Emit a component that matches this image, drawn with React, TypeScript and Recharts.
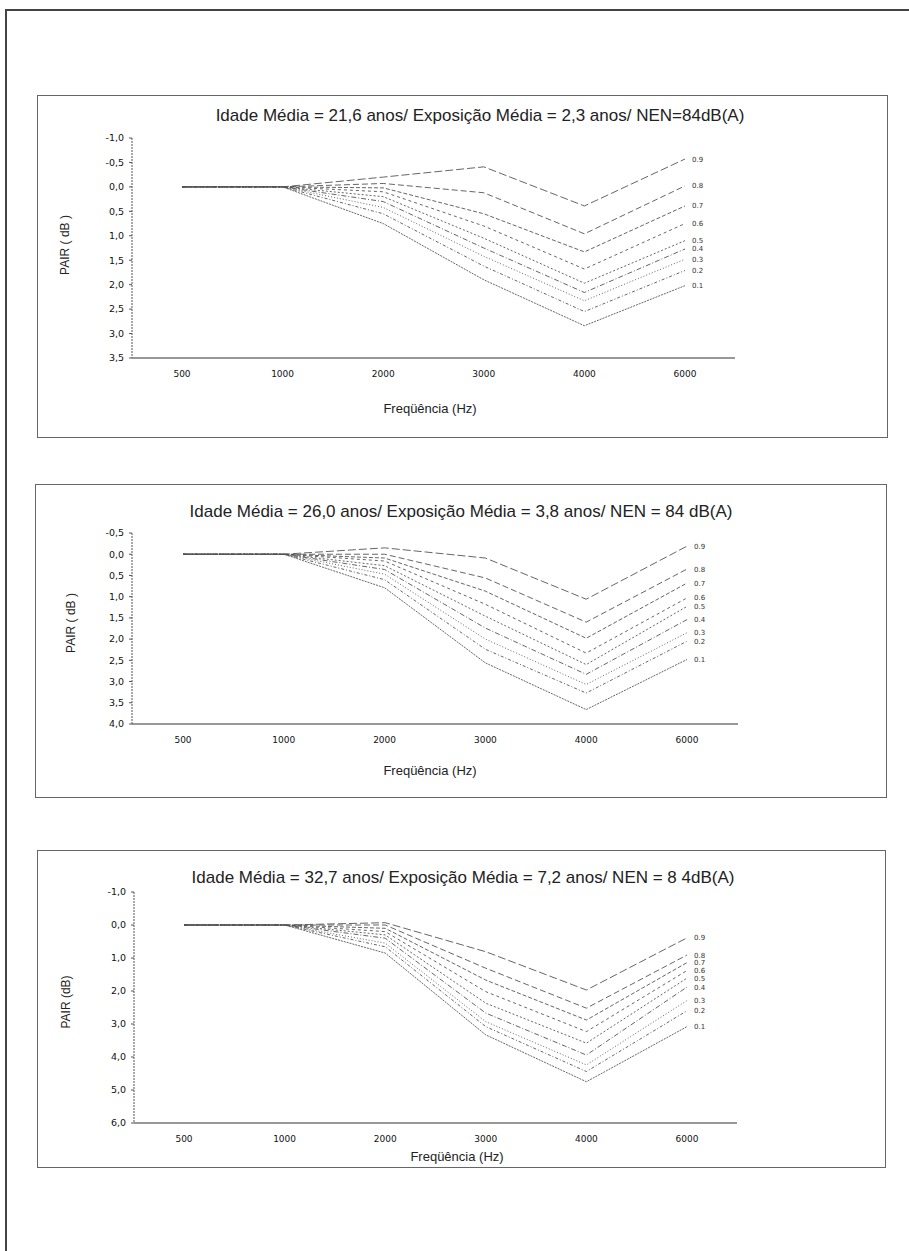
import React from 'react';
import { LineChart, Line, XAxis, YAxis } from 'recharts';

// ---------- data ----------
const FREQS = ['500', '1000', '2000', '3000', '4000', '6000'];
const QUANTILES = ['0.9', '0.8', '0.7', '0.6', '0.5', '0.4', '0.3', '0.2', '0.1'];

// Chart 1 – Idade Média 21,6 anos
const c1_q9 = [0, 0, -0.2, -0.41, 0.39, -0.57];
const c1_q8 = [0, 0, -0.07, 0.12, 0.96, -0.02];
const c1_q7 = [0, 0, 0.02, 0.55, 1.33, 0.39];
const c1_q6 = [0, 0, 0.1, 0.8, 1.68, 0.75];
const c1_q5 = [0, 0, 0.2, 1.05, 1.97, 1.1];
const c1_q4 = [0, 0, 0.3, 1.25, 2.16, 1.27];
const c1_q3 = [0, 0, 0.42, 1.42, 2.33, 1.48];
const c1_q2 = [0, 0, 0.55, 1.62, 2.55, 1.71];
const c1_q1 = [0, 0, 0.75, 1.9, 2.84, 2.02];
const c1_ticks = [-1, -0.5, 0, 0.5, 1, 1.5, 2, 2.5, 3, 3.5];

// Chart 2 – Idade Média 26,0 anos
const c2_q9 = [0, 0, -0.15, 0.09, 1.06, -0.19];
const c2_q8 = [0, 0, 0.0, 0.56, 1.6, 0.35];
const c2_q7 = [0, 0, 0.09, 0.87, 1.98, 0.68];
const c2_q6 = [0, 0, 0.16, 1.18, 2.33, 1.03];
const c2_q5 = [0, 0, 0.27, 1.46, 2.6, 1.23];
const c2_q4 = [0, 0, 0.36, 1.74, 2.83, 1.54];
const c2_q3 = [0, 0, 0.47, 2.0, 3.07, 1.85];
const c2_q2 = [0, 0, 0.6, 2.24, 3.27, 2.05];
const c2_q1 = [0, 0, 0.79, 2.56, 3.66, 2.48];
const c2_ticks = [-0.5, 0, 0.5, 1, 1.5, 2, 2.5, 3, 3.5, 4];

// Chart 3 – Idade Média 32,7 anos
const c3_q9 = [0, 0, -0.07, 0.81, 1.97, 0.39];
const c3_q8 = [0, 0, 0.0, 1.31, 2.52, 0.91];
const c3_q7 = [0, 0, 0.1, 1.67, 2.88, 1.14];
const c3_q6 = [0, 0, 0.2, 2.02, 3.23, 1.38];
const c3_q5 = [0, 0, 0.3, 2.37, 3.58, 1.61];
const c3_q4 = [0, 0, 0.4, 2.67, 3.94, 1.88];
const c3_q3 = [0, 0, 0.55, 2.93, 4.24, 2.29];
const c3_q2 = [0, 0, 0.66, 3.08, 4.44, 2.6];
const c3_q1 = [0, 0, 0.85, 3.33, 4.75, 3.08];
const c3_ticks = [-1, 0, 1, 2, 3, 4, 5, 6];

const TITLE1 = 'Idade Média = 21,6 anos/ Exposição Média = 2,3 anos/ NEN=84dB(A)';
const TITLE2 = 'Idade Média = 26,0 anos/ Exposição Média = 3,8 anos/ NEN = 84 dB(A)';
const TITLE3 = 'Idade Média = 32,7 anos/ Exposição Média = 7,2 anos/ NEN = 8 4dB(A)';
const YLABEL1 = 'PAIR ( dB )';
const YLABEL2 = 'PAIR ( dB )';
const YLABEL3 = 'PAIR (dB)';
const XLABEL = 'Freqüência (Hz)';

// ---------- helpers ----------
const DASHES = ['8 3', '6 3', '4 2', '3 3', '2 2', '5 2 1 2', '1 2', '3 2 1 2', '2 1'];

function buildRows(series: number[][]) {
  return FREQS.map((f, i) => {
    const row: any = { freq: f };
    QUANTILES.forEach((q, k) => {
      row['q' + q] = series[k][i];
    });
    return row;
  });
}

const fmt = (v: number) => v.toFixed(1).replace('.', ',');

const endLabel = (name: string) => (props: any) => {
  const { x, y, index } = props;
  if (index !== FREQS.length - 1 || x == null) return <g />;
  return (
    <text x={x + 7} y={y} dy={2.5} fontSize={7} fontFamily="DejaVu Sans" fill="#333">
      {name}
    </text>
  );
};

const Txt = ({ x, y, size, children, rotate, family }: any) => (
  <div
    style={{
      position: 'absolute',
      left: x,
      top: y,
      transform: `translate(-50%, -50%)${rotate ? ' rotate(-90deg)' : ''}`,
      whiteSpace: 'nowrap',
      fontSize: size,
      fontFamily: family || '"Liberation Sans", Arial, sans-serif',
      color: '#222',
      lineHeight: 1,
    }}
  >
    {children}
  </div>
);

type PanelProps = {
  series: number[][];
  ticks: number[];
  box: { l: number; t: number; r: number; b: number };
  plot: { l: number; t: number; r: number; b: number };
  title: string;
  titlePos: [number, number];
  ylabel: string;
  ylabelPos: [number, number];
  xlabelPos: [number, number];
};

function Panel(p: PanelProps) {
  const data = buildRows(p.series);
  const H = p.box.b - p.box.t;
  const yw = 50;
  const xh = 30;
  const margin = {
    top: p.plot.t - p.box.t,
    left: p.plot.l - yw,
    right: 909 - p.plot.r,
    bottom: p.box.b - p.plot.b - xh,
  };
  const pad = Math.round((p.plot.r - p.plot.l) / 12);
  return (
    <>
      <div
        style={{
          position: 'absolute',
          left: p.box.l,
          top: p.box.t,
          width: p.box.r - p.box.l,
          height: p.box.b - p.box.t,
          border: '1px solid #666',
          boxSizing: 'border-box',
        }}
      />
      <div style={{ position: 'absolute', left: 0, top: p.box.t }}>
        <LineChart width={909} height={H} data={data} margin={margin}>
          <XAxis
            dataKey="freq"
            type="category"
            interval={0}
            height={xh}
            padding={{ left: pad, right: pad }}
            tickLine={false}
            tickSize={5}
            tickMargin={8}
            axisLine={{ stroke: '#333', strokeWidth: 1.2 }}
            tick={{ fontSize: 9, fontFamily: 'DejaVu Sans', fill: '#111' }}
          />
          <YAxis
            type="number"
            reversed
            domain={[p.ticks[0], p.ticks[p.ticks.length - 1]]}
            ticks={p.ticks}
            interval={0}
            width={yw}
            tickFormatter={fmt}
            tickSize={3}
            tickMargin={5}
            axisLine={{ stroke: '#555', strokeDasharray: '2 1' }}
            tickLine={{ stroke: '#555' }}
            tick={{ fontSize: 9.5, fontFamily: 'DejaVu Sans', fill: '#111' }}
          />
          {QUANTILES.map((q, k) => (
            <Line
              key={q}
              dataKey={'q' + q}
              type="linear"
              stroke="#555"
              strokeWidth={0.9}
              strokeDasharray={DASHES[k]}
              dot={false}
              isAnimationActive={false}
              label={endLabel(q)}
            />
          ))}
        </LineChart>
      </div>
      <Txt x={p.titlePos[0]} y={p.titlePos[1]} size={17}>
        {p.title}
      </Txt>
      <Txt x={p.ylabelPos[0]} y={p.ylabelPos[1]} size={12} rotate>
        {p.ylabel}
      </Txt>
      <Txt x={p.xlabelPos[0]} y={p.xlabelPos[1]} size={13}>
        {XLABEL}
      </Txt>
    </>
  );
}

export default function App() {
  return (
    <div
      style={{
        position: 'absolute',
        left: 0,
        top: 0,
        width: 909,
        height: 1251,
        background: '#fff',
        overflow: 'hidden',
      }}
    >
      {/* scanned page frame */}
      <div style={{ position: 'absolute', left: 5, top: 9, width: 904, height: 0, borderTop: '2px solid #444' }} />
      <div style={{ position: 'absolute', left: 5, top: 9, width: 0, height: 1242, borderLeft: '2px solid #444' }} />

      <Panel
        series={[c1_q9, c1_q8, c1_q7, c1_q6, c1_q5, c1_q4, c1_q3, c1_q2, c1_q1]}
        ticks={c1_ticks}
        box={{ l: 37, t: 95, r: 888, b: 438 }}
        plot={{ l: 132, t: 138, r: 735, b: 358 }}
        title={TITLE1}
        titlePos={[480, 115]}
        ylabel={YLABEL1}
        ylabelPos={[65, 245]}
        xlabelPos={[430, 408]}
      />
      <Panel
        series={[c2_q9, c2_q8, c2_q7, c2_q6, c2_q5, c2_q4, c2_q3, c2_q2, c2_q1]}
        ticks={c2_ticks}
        box={{ l: 35, t: 484, r: 887, b: 798 }}
        plot={{ l: 132, t: 533, r: 738, b: 724 }}
        title={TITLE2}
        titlePos={[461, 511]}
        ylabel={YLABEL2}
        ylabelPos={[71, 623]}
        xlabelPos={[430, 770]}
      />
      <Panel
        series={[c3_q9, c3_q8, c3_q7, c3_q6, c3_q5, c3_q4, c3_q3, c3_q2, c3_q1]}
        ticks={c3_ticks}
        box={{ l: 37, t: 850, r: 886, b: 1168 }}
        plot={{ l: 134, t: 892, r: 737, b: 1123 }}
        title={TITLE3}
        titlePos={[463, 877]}
        ylabel={YLABEL3}
        ylabelPos={[66, 1002]}
        xlabelPos={[457, 1156]}
      />
    </div>
  );
}
